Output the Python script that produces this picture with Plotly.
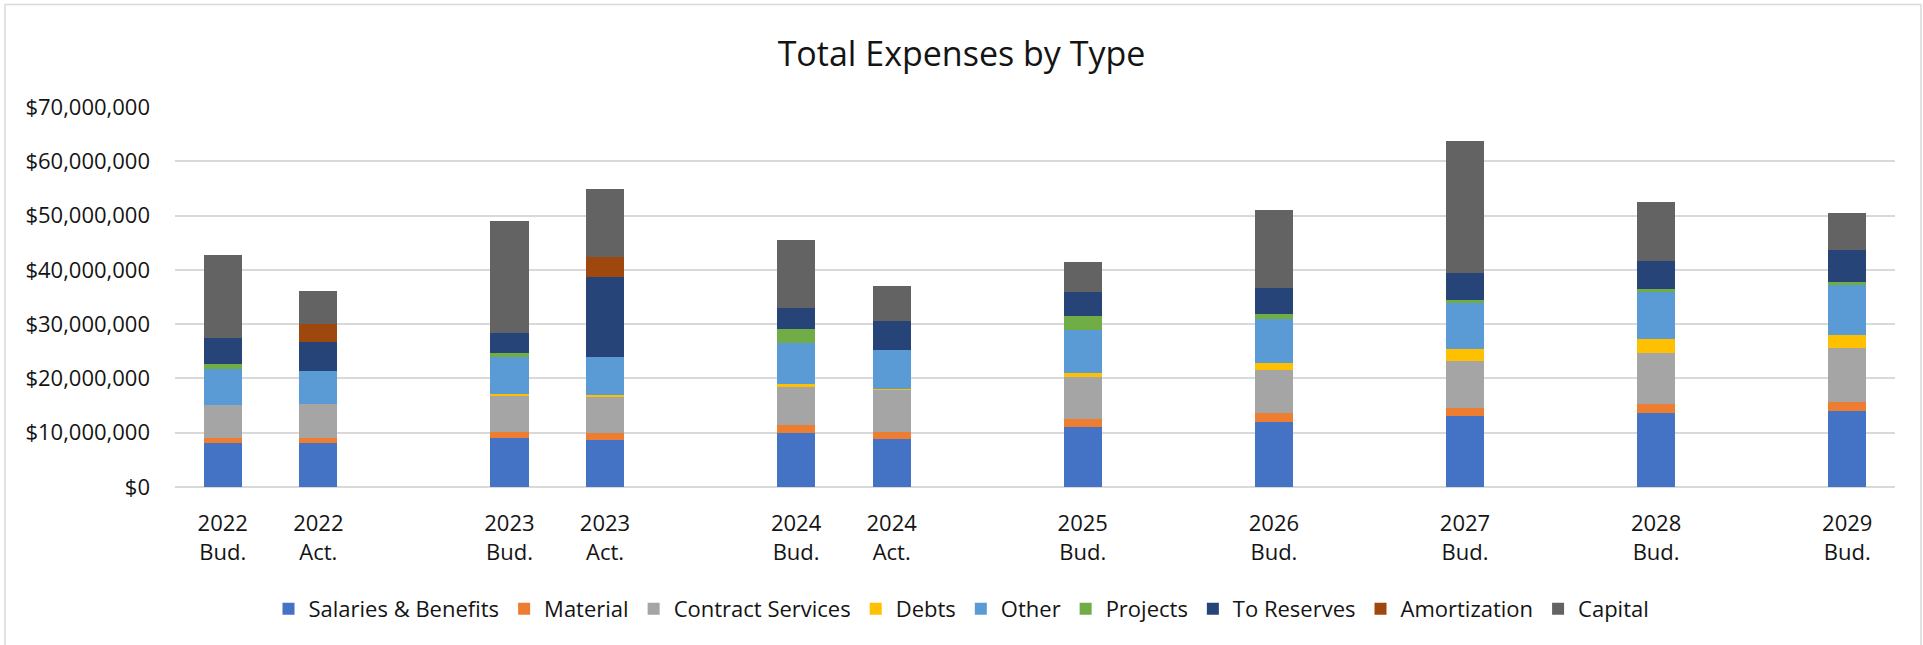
import plotly.graph_objects as go

# Fiscal periods (budget / actual), values in dollars
periods = ["2022<br>Bud.", "2022<br>Act.", "2023<br>Bud.", "2023<br>Act.",
           "2024<br>Bud.", "2024<br>Act.", "2025<br>Bud.", "2026<br>Bud.",
           "2027<br>Bud.", "2028<br>Bud.", "2029<br>Bud."]

# Axis order, with blank slots separating the year groups
axis_order = ["2022<br>Bud.", "2022<br>Act.", " ",
              "2023<br>Bud.", "2023<br>Act.", "  ",
              "2024<br>Bud.", "2024<br>Act.", "   ",
              "2025<br>Bud.", "    ",
              "2026<br>Bud.", "     ",
              "2027<br>Bud.", "      ",
              "2028<br>Bud.", "       ",
              "2029<br>Bud."]

salaries = [8.17e6, 8.17e6, 9.10e6, 8.73e6, 9.96e6, 8.91e6, 11.06e6, 12.05e6, 13.03e6, 13.58e6, 14.08e6]
material = [0.93e6, 0.80e6, 1.10e6, 1.29e6, 1.47e6, 1.23e6, 1.54e6, 1.66e6, 1.60e6, 1.66e6, 1.65e6]
contract = [5.96e6, 6.33e6, 6.70e6, 6.64e6, 7.07e6, 7.81e6, 7.74e6, 7.86e6, 8.54e6, 9.53e6, 9.96e6]
debts = [0, 0, 0.31e6, 0.30e6, 0.49e6, 0.12e6, 0.68e6, 1.23e6, 2.28e6, 2.58e6, 2.33e6]
other = [6.64e6, 6.15e6, 6.76e6, 6.95e6, 7.56e6, 7.13e6, 7.93e6, 8.12e6, 8.42e6, 8.54e6, 9.16e6]
projects = [0.92e6, 0, 0.68e6, 0, 2.52e6, 0, 2.58e6, 0.92e6, 0.55e6, 0.50e6, 0.62e6]
reserves = [4.92e6, 5.22e6, 3.75e6, 14.81e6, 3.94e6, 5.29e6, 4.43e6, 4.73e6, 4.98e6, 5.16e6, 5.78e6]
amortization = [0, 3.32e6, 0, 3.57e6, 0, 0, 0, 0, 0, 0, 0]
capital = [15.24e6, 6.20e6, 20.52e6, 12.66e6, 12.47e6, 6.45e6, 5.53e6, 14.51e6, 24.28e6, 10.88e6, 6.88e6]

series = [
    ("Salaries & Benefits", salaries, "#4472C4"),
    ("Material", material, "#ED7D31"),
    ("Contract Services", contract, "#A5A5A5"),
    ("Debts", debts, "#FFC000"),
    ("Other", other, "#5B9BD5"),
    ("Projects", projects, "#70AD47"),
    ("To Reserves", reserves, "#264478"),
    ("Amortization", amortization, "#9E480E"),
    ("Capital", capital, "#636363"),
]

W, H = 1923, 645
L, R, T, B = 175, 28, 107, 158
plot_w, plot_h = W - L - R, H - T - B
text_color = "#141414"
font_family = "Open Sans, Noto Sans, sans-serif"

fig = go.Figure()
for name, vals, color in series:
    fig.add_trace(go.Bar(
        name=name, x=periods, y=vals,
        marker=dict(color=color, line=dict(width=0)),
    ))

# light frame around the whole chart (pixel positions converted to paper units)
def px_x(px):
    return (px - L) / plot_w

def px_y(py):
    return (H - B - py) / plot_h

fig.add_shape(type="rect", xref="paper", yref="paper",
              x0=px_x(5), x1=px_x(1921), y0=px_y(700), y1=px_y(4.5),
              line=dict(color="#d9d9d9", width=1.5), fillcolor="rgba(0,0,0,0)", layer="below")

fig.update_layout(
    width=W, height=H,
    margin=dict(l=L, r=R, t=T, b=B, pad=0),
    barmode="stack", bargap=0.6,
    paper_bgcolor="white", plot_bgcolor="white",
    font=dict(family=font_family, size=22, color=text_color),
    title=dict(text="Total Expenses by Type", x=0.5, xanchor="center",
               yref="container", y=1 - 54 / H, yanchor="middle",
               font=dict(size=34, color=text_color)),
    legend=dict(orientation="h", xref="container", x=0.5, xanchor="center",
                yref="container", y=1 - 609 / H, yanchor="middle",
                traceorder="normal", font=dict(size=22, color=text_color),
                itemwidth=30, bgcolor="rgba(0,0,0,0)"),
    showlegend=True,
)

fig.update_xaxes(type="category", categoryorder="array", categoryarray=axis_order,
                 showgrid=False, showline=False, ticks="", zeroline=False,
                 tickfont=dict(size=22, color=text_color), ticklabelstandoff=21)
fig.update_yaxes(range=[0, 70e6], dtick=10e6, tickformat="$,.0f",
                 showgrid=True, gridcolor="#d9d9d9", gridwidth=1.5,
                 zeroline=True, zerolinecolor="#d9d9d9", zerolinewidth=1.5,
                 showline=False, ticks="", ticklabelstandoff=24,
                 tickfont=dict(size=22, color=text_color))

fig.write_html("out.html")
